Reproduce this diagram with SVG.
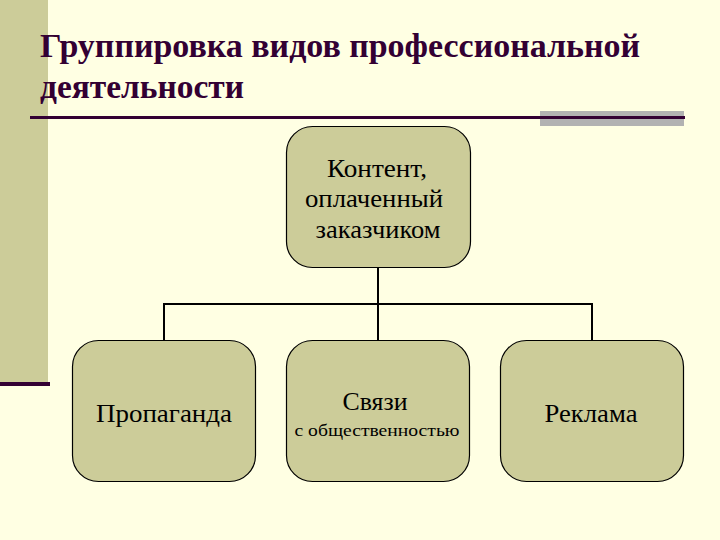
<svg xmlns="http://www.w3.org/2000/svg" width="720" height="540" viewBox="0 0 720 540">
<style>
.node{fill:#CCCC99;stroke:#000;stroke-width:1.2}
.lbl{font-family:'Liberation Serif','DejaVu Serif',serif;fill:#000;text-anchor:middle}
.title{font-family:'Liberation Serif','DejaVu Serif',serif;font-weight:bold;fill:#330033;font-size:34px}
.conn{fill:none;stroke:#000;stroke-width:2}
</style>
<rect x="0" y="0" width="720" height="540" fill="#FFFFE3"/>
<rect x="0" y="0" width="48" height="382" fill="#CCCC99"/>
<rect x="0" y="382" width="50" height="4" fill="#330033"/>
<rect x="540" y="111" width="144" height="15" fill="#B2B2B2"/>
<rect x="30" y="116" width="655" height="3" fill="#330033"/>
<g id="title">
<text class="title" x="40" y="57" textLength="600" lengthAdjust="spacingAndGlyphs">Группировка видов профессиональной</text>
<text class="title" x="40" y="98" textLength="204" lengthAdjust="spacingAndGlyphs">деятельности</text>
</g>
<g id="connectors">
<path class="conn" d="M378,268 V304 M164,304 H592 M164,303 V340 M378,304 V340 M592,303 V340"/>
</g>
<g id="node-content">
<rect class="node" x="286.5" y="126.5" width="184" height="141" rx="26"/>
<text class="lbl" font-size="26" x="377" y="177" textLength="100" lengthAdjust="spacingAndGlyphs">Контент,</text>
<text class="lbl" font-size="26" x="374" y="207" textLength="138" lengthAdjust="spacingAndGlyphs">оплаченный</text>
<text class="lbl" font-size="26" x="378" y="238" textLength="125" lengthAdjust="spacingAndGlyphs">заказчиком</text>
</g>
<g id="node-propaganda">
<rect class="node" x="72.5" y="340.5" width="183" height="141" rx="26"/>
<text class="lbl" font-size="26" x="164" y="422" textLength="136" lengthAdjust="spacingAndGlyphs">Пропаганда</text>
</g>
<g id="node-pr">
<rect class="node" x="286.5" y="340.5" width="183" height="141" rx="26"/>
<text class="lbl" font-size="26" x="375" y="410" textLength="65" lengthAdjust="spacingAndGlyphs">Связи</text>
<text class="lbl" font-size="17" x="377" y="436" textLength="165" lengthAdjust="spacingAndGlyphs">с общественностью</text>
</g>
<g id="node-ads">
<rect class="node" x="500.5" y="340.5" width="183" height="141" rx="26"/>
<text class="lbl" font-size="26" x="591" y="422" textLength="93" lengthAdjust="spacingAndGlyphs">Реклама</text>
</g>
</svg>
